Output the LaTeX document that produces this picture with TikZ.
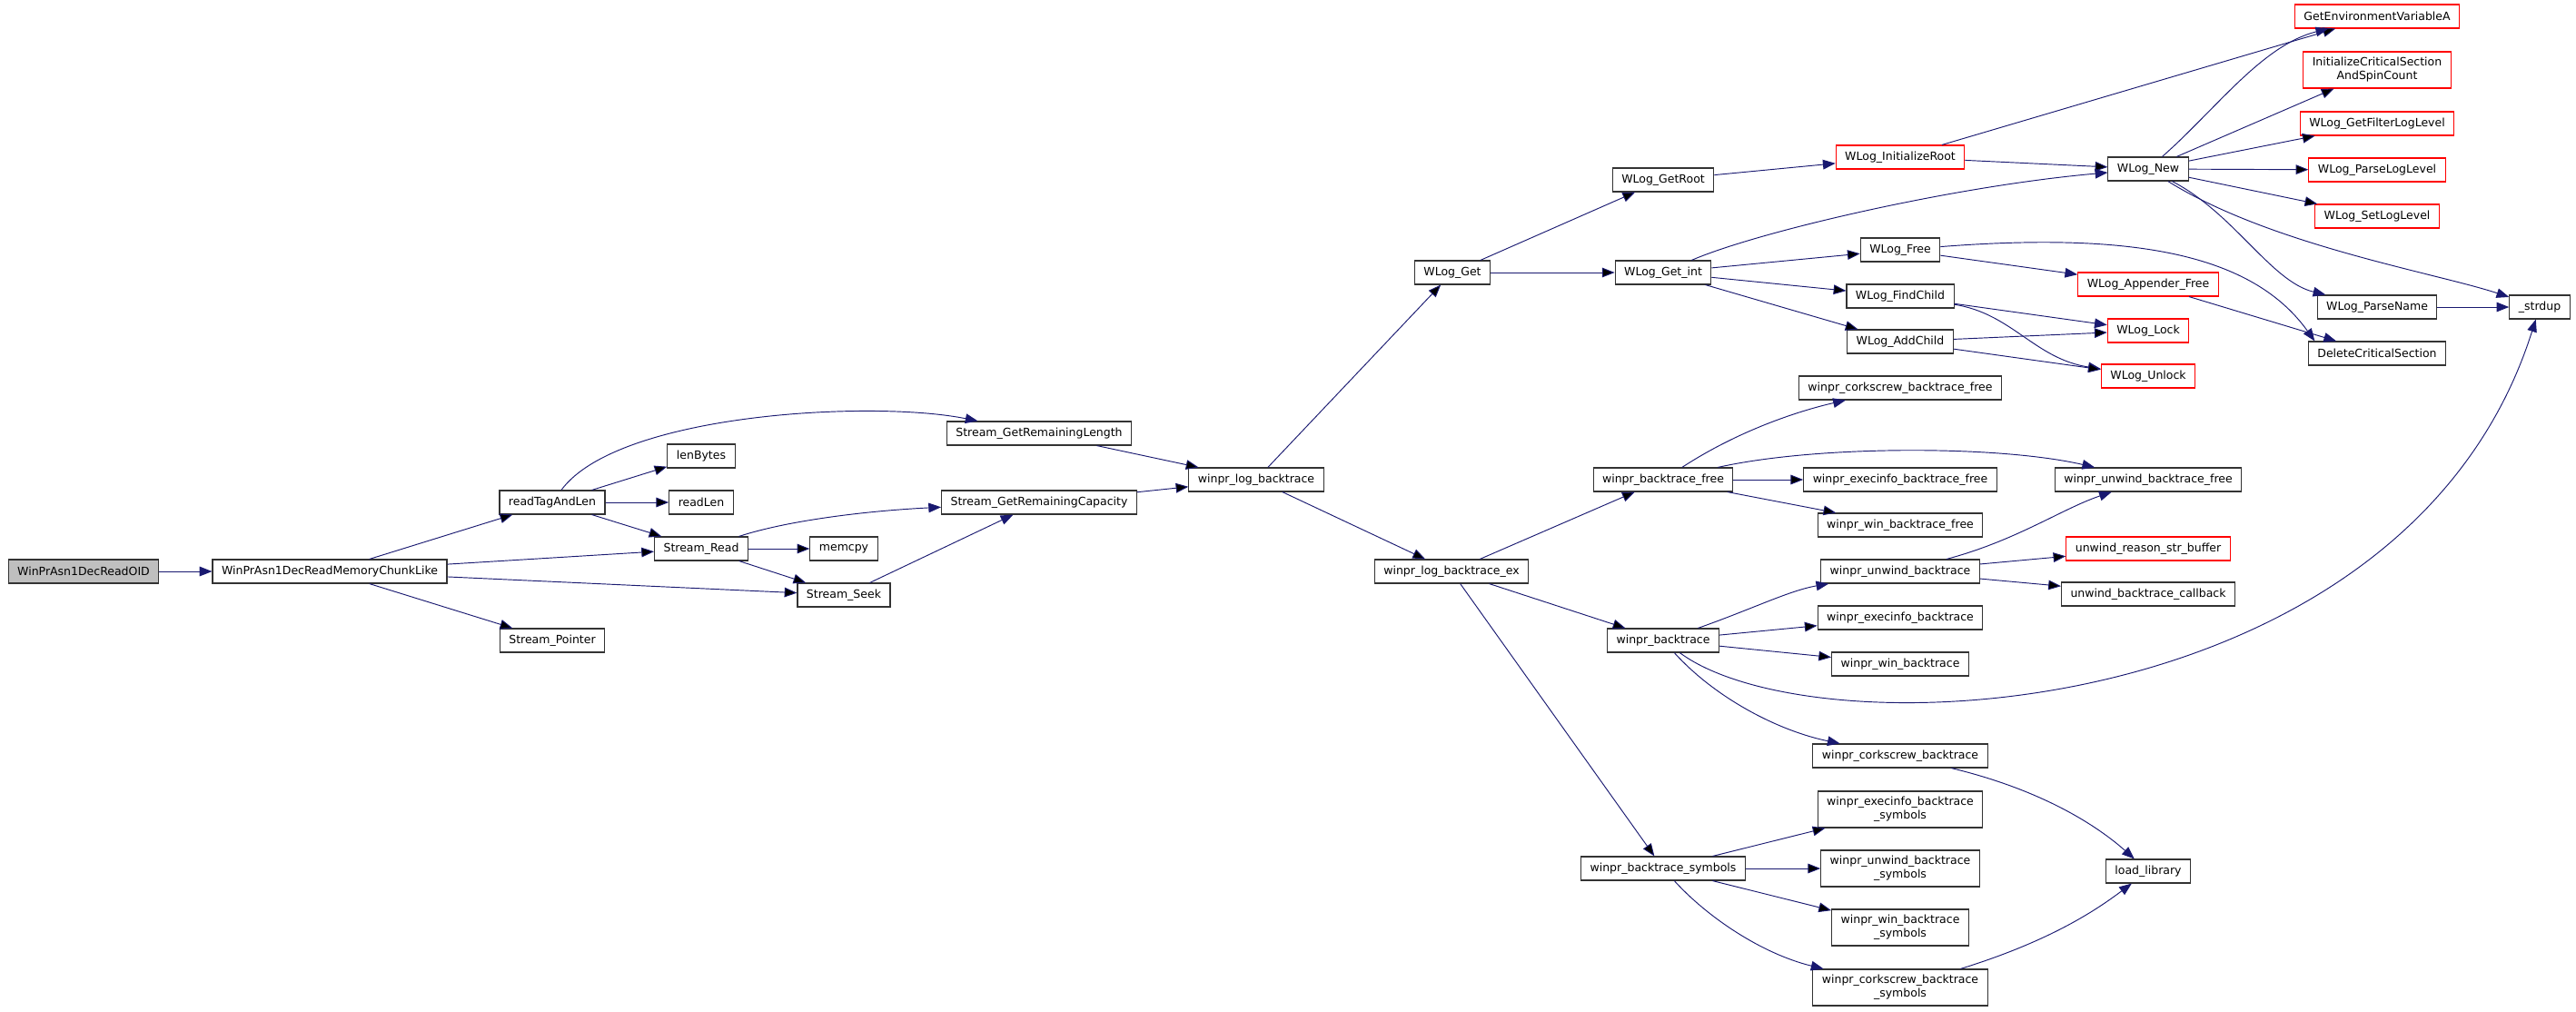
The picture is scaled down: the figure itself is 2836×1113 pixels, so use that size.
\documentclass[tikz,border=0pt]{standalone}
\usepackage{fontspec}
\setmainfont{DejaVu Sans}
\usetikzlibrary{arrows.meta}
\definecolor{edgeblue}{HTML}{191970}

\begin{document}
\begin{tikzpicture}[x=0.8pt, y=-0.8pt,
  every node/.style = {shape=rectangle, draw=black!80, fill=white,
    line width=0.9pt, inner xsep=8pt, inner ysep=0pt,
    minimum height=20.8pt, align=center,
    font=\fontsize{10}{12}\selectfont},
  trunc/.style = {draw=red},
  root/.style = {fill=black!25},
  twoline/.style = {minimum height=32pt},
  call/.style = {draw=edgeblue, line width=0.75pt,
    -{Triangle[length=11pt,width=8.5pt]}}]
  \useasboundingbox (0,0) rectangle (2836,1113);

  % left part
  \node[root] (oid) at (92,629) {WinPrAsn1DecReadOID};
  \node (chunk) at (363,629) {WinPrAsn1DecReadMemoryChunkLike};
  \node (readtag) at (608,553) {readTagAndLen};
  \node (spointer) at (608,705) {Stream\_Pointer};
  \node (lenbytes) at (772,502) {lenBytes};
  \node (readlen) at (772,553) {readLen};
  \node (sread) at (772,604) {Stream\_Read};
  \node (memcpy) at (929,604) {memcpy};
  \node (sseek) at (929,655) {Stream\_Seek};
  \node (sgrl) at (1144,477) {Stream\_GetRemainingLength};
  \node (sgrc) at (1144,553) {Stream\_GetRemainingCapacity};
  \node (wlb) at (1383,528) {winpr\_log\_backtrace};
  \node (wlogget) at (1599,300) {WLog\_Get};
  \node (wlbex) at (1598,629) {winpr\_log\_backtrace\_ex};

  % middle columns
  \node (getroot) at (1831,198) {WLog\_GetRoot};
  \node (getint) at (1831,300) {WLog\_Get\_int};
  \node (wbfree) at (1831,528) {winpr\_backtrace\_free};
  \node (wbt) at (1831,705) {winpr\_backtrace};
  \node (wbsym) at (1831,956) {winpr\_backtrace\_symbols};

  \node[trunc] (initroot) at (2092,173) {WLog\_InitializeRoot};
  \node (wlfree) at (2092,275) {WLog\_Free};
  \node (findchild) at (2092,326) {WLog\_FindChild};
  \node (addchild) at (2092,376) {WLog\_AddChild};
  \node (corkfree) at (2092,427) {winpr\_corkscrew\_backtrace\_free};
  \node (execfree) at (2092,528) {winpr\_execinfo\_backtrace\_free};
  \node (winfree) at (2092,578) {winpr\_win\_backtrace\_free};
  \node (unwindbt) at (2092,629) {winpr\_unwind\_backtrace};
  \node (execbt) at (2092,680) {winpr\_execinfo\_backtrace};
  \node (winbt) at (2092,731) {winpr\_win\_backtrace};
  \node (corkbt) at (2092,832) {winpr\_corkscrew\_backtrace};
  \node[twoline] (execsym) at (2092,891) {winpr\_execinfo\_backtrace\\\_symbols};
  \node[twoline] (unwindsym) at (2092,956) {winpr\_unwind\_backtrace\\\_symbols};
  \node[twoline] (winsym) at (2092,1021) {winpr\_win\_backtrace\\\_symbols};
  \node[twoline] (corksym) at (2092,1087) {winpr\_corkscrew\_backtrace\\\_symbols};

  \node (wlnew) at (2365,186) {WLog\_New};
  \node[trunc] (appfree) at (2365,313) {WLog\_Appender\_Free};
  \node[trunc] (lock) at (2365,364) {WLog\_Lock};
  \node[trunc] (unlock) at (2365,414) {WLog\_Unlock};
  \node (unwindfree) at (2365,528) {winpr\_unwind\_backtrace\_free};
  \node[trunc] (reason) at (2365,604) {unwind\_reason\_str\_buffer};
  \node (callback) at (2365,654) {unwind\_backtrace\_callback};
  \node (loadlib) at (2365,959) {load\_library};

  % right part
  \node[trunc] (getenv) at (2617,18) {GetEnvironmentVariableA};
  \node[trunc, twoline] (initcs) at (2617,77) {InitializeCriticalSection\\AndSpinCount};
  \node[trunc] (filterlvl) at (2617,136) {WLog\_GetFilterLogLevel};
  \node[trunc] (parselvl) at (2617,187) {WLog\_ParseLogLevel};
  \node[trunc] (setlvl) at (2617,238) {WLog\_SetLogLevel};
  \node (parsename) at (2617,338) {WLog\_ParseName};
  \node (delcs) at (2617,389) {DeleteCriticalSection};
  \node (strdup) at (2796,338) {\_strdup};

  % calls
  \draw[call] (oid) -- (chunk);
  \draw[call] (chunk) edge (readtag) edge (sread) edge (sseek) edge (spointer);
  \draw[call] (readtag) edge (lenbytes) edge (readlen) edge (sread);
  \draw[call] (readtag) .. controls (680,455) and (960,440) .. (sgrl);
  \draw[call] (sread) edge (memcpy) edge (sseek);
  \draw[call] (sread) .. controls (870,572) and (960,562) .. (sgrc);
  \draw[call] (sseek) -- (sgrc);
  \draw[call] (sgrl) edge (wlb);
  \draw[call] (sgrc) edge (wlb);
  \draw[call] (wlb) edge (wlogget) edge (wlbex);
  \draw[call] (wlogget) edge (getroot) edge (getint);
  \draw[call] (getroot) -- (initroot);
  \draw[call] (initroot) edge (getenv) edge (wlnew);
  \draw[call] (getint) .. controls (1935,255) and (2150,205) .. (wlnew);
  \draw[call] (getint) edge (wlfree) edge (findchild) edge (addchild);
  \draw[call] (wlnew) .. controls (2440,120) and (2490,50) .. (getenv);
  \draw[call] (wlnew) edge (initcs) edge (filterlvl) edge (parselvl) edge (setlvl);
  \draw[call] (wlnew) .. controls (2460,235) and (2500,310) .. (parsename);
  \draw[call] (wlnew) .. controls (2500,270) and (2680,300) .. (strdup);
  \draw[call] (parsename) -- (strdup);
  \draw[call] (wlfree) -- (appfree);
  \draw[call] (wlfree) .. controls (2350,255) and (2480,280) .. ([xshift=6pt]delcs.north west);
  \draw[call] (appfree) -- (delcs);
  \draw[call] (findchild) -- (lock);
  \draw[call] (findchild) .. controls (2215,345) and (2240,395) .. (unlock);
  \draw[call] (addchild) edge (lock) edge (unlock);

  \draw[call] (wlbex) edge (wbfree) edge (wbt) edge (wbsym);
  \draw[call] (wbfree) .. controls (1920,470) and (1990,450) .. (corkfree);
  \draw[call] (wbfree) edge (execfree) edge (winfree);
  \draw[call] (wbfree) .. controls (2000,490) and (2200,490) .. (unwindfree);
  \draw[call] (wbt) .. controls (1930,670) and (1970,650) .. (unwindbt);
  \draw[call] (wbt) edge (execbt) edge (winbt);
  \draw[call] (wbt) .. controls (1890,770) and (1960,805) .. (corkbt);
  \draw[call] (wbt) .. controls (2000,830) and (2650,800) .. (strdup);
  \draw[call] (unwindbt) .. controls (2220,595) and (2270,560) .. (unwindfree);
  \draw[call] (unwindbt) edge (reason) edge (callback);
  \draw[call] (corkbt) .. controls (2250,870) and (2310,910) .. (loadlib);
  \draw[call] (wbsym) edge (execsym) edge (unwindsym) edge (winsym);
  \draw[call] (wbsym) .. controls (1880,1010) and (1940,1050) .. (corksym);
  \draw[call] (corksym) .. controls (2260,1035) and (2310,1000) .. (loadlib);
\end{tikzpicture}
\end{document}
